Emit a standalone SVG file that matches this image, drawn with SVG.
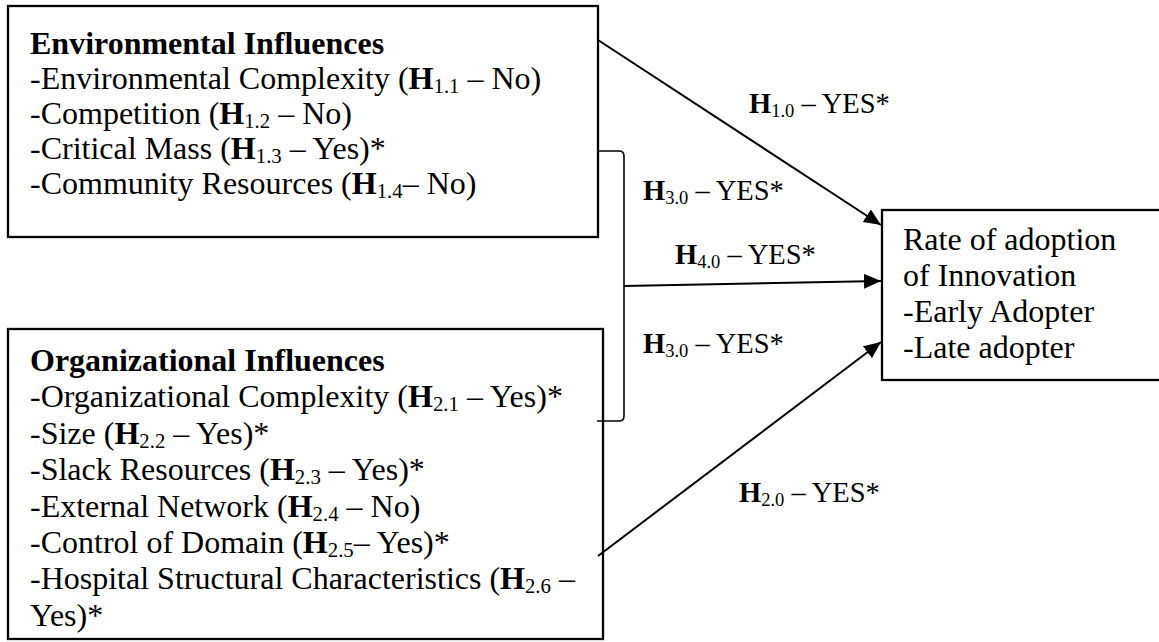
<svg xmlns="http://www.w3.org/2000/svg" width="1159" height="642" viewBox="0 0 1159 642">
  <style>
    .box { fill: #fff; stroke: #000; stroke-width: 2.3; }
    .txt { font-family: "Liberation Serif", "Times New Roman", serif; font-size: 32px; fill: #000; }
    .lbl { font-family: "Liberation Serif", "Times New Roman", serif; font-size: 28.5px; fill: #000; }
    .b { font-weight: bold; }
    .sub { font-size: 65%; }
    .edge { fill: none; stroke: #000; stroke-width: 2; }
    .brace { fill: none; stroke: #000; stroke-width: 1.6; }
  </style>
  <defs>
    <marker id="arrow" markerUnits="userSpaceOnUse" markerWidth="17" markerHeight="15" refX="17" refY="7.5" orient="auto">
      <path d="M0,0 L17,7.5 L0,15 Z" fill="#000"/>
    </marker>
  </defs>
  <rect width="1159" height="642" fill="#fff"/>

  <g id="environmental">
    <rect class="box" x="8" y="6" width="590" height="231"/>
    <text class="txt" x="30" y="54"><tspan class="b">Environmental Influences</tspan></text>
    <text class="txt" x="30" y="89">-Environmental Complexity (<tspan class="b">H</tspan><tspan class="sub" dy="4">1.1</tspan><tspan dy="-4"> – No)</tspan></text>
    <text class="txt" x="30" y="124">-Competition (<tspan class="b">H</tspan><tspan class="sub" dy="4">1.2</tspan><tspan dy="-4"> – No)</tspan></text>
    <text class="txt" x="30" y="159">-Critical Mass (<tspan class="b">H</tspan><tspan class="sub" dy="4">1.3</tspan><tspan dy="-4"> – Yes)*</tspan></text>
    <text class="txt" x="30" y="194">-Community Resources (<tspan class="b">H</tspan><tspan class="sub" dy="4">1.4</tspan><tspan dy="-4">– No)</tspan></text>
  </g>

  <g id="organizational">
    <rect class="box" x="8" y="329" width="595" height="310"/>
    <text class="txt" x="30" y="371"><tspan class="b">Organizational Influences</tspan></text>
    <text class="txt" x="30" y="407">-Organizational Complexity (<tspan class="b">H</tspan><tspan class="sub" dy="4">2.1</tspan><tspan dy="-4"> – Yes)*</tspan></text>
    <text class="txt" x="30" y="444">-Size (<tspan class="b">H</tspan><tspan class="sub" dy="4">2.2</tspan><tspan dy="-4"> – Yes)*</tspan></text>
    <text class="txt" x="30" y="480">-Slack Resources (<tspan class="b">H</tspan><tspan class="sub" dy="4">2.3</tspan><tspan dy="-4"> – Yes)*</tspan></text>
    <text class="txt" x="30" y="517">-External Network (<tspan class="b">H</tspan><tspan class="sub" dy="4">2.4</tspan><tspan dy="-4"> – No)</tspan></text>
    <text class="txt" x="30" y="553">-Control of Domain (<tspan class="b">H</tspan><tspan class="sub" dy="4">2.5</tspan><tspan dy="-4">– Yes)*</tspan></text>
    <text class="txt" x="30" y="589">-Hospital Structural Characteristics (<tspan class="b">H</tspan><tspan class="sub" dy="4">2.6</tspan><tspan dy="-4"> –</tspan></text>
    <text class="txt" x="30" y="626">Yes)*</text>
  </g>

  <g id="adoption">
    <rect class="box" x="882" y="210" width="290" height="170"/>
    <text class="txt" x="903" y="250">Rate of adoption</text>
    <text class="txt" x="903" y="286">of Innovation</text>
    <text class="txt" x="903" y="322">-Early Adopter</text>
    <text class="txt" x="903" y="358">-Late adopter</text>
  </g>

  <g id="connectors">
    <path class="brace" d="M598,151 L619,151 Q624,151 624,156 L624,416 Q624,421 619,421 L597,421"/>
    <line class="edge" x1="598" y1="40" x2="881" y2="225" marker-end="url(#arrow)"/>
    <line class="edge" x1="624" y1="286" x2="881" y2="281" marker-end="url(#arrow)"/>
    <line class="edge" x1="598" y1="556" x2="881" y2="342" marker-end="url(#arrow)"/>
  </g>

  <g id="labels">
    <text class="lbl" x="749" y="113"><tspan class="b">H</tspan><tspan class="sub" dy="4">1.0</tspan><tspan dy="-4"> – YES*</tspan></text>
    <text class="lbl" x="643" y="200"><tspan class="b">H</tspan><tspan class="sub" dy="4">3.0</tspan><tspan dy="-4"> – YES*</tspan></text>
    <text class="lbl" x="675" y="264"><tspan class="b">H</tspan><tspan class="sub" dy="4">4.0</tspan><tspan dy="-4"> – YES*</tspan></text>
    <text class="lbl" x="643" y="353"><tspan class="b">H</tspan><tspan class="sub" dy="4">3.0</tspan><tspan dy="-4"> – YES*</tspan></text>
    <text class="lbl" x="739" y="502"><tspan class="b">H</tspan><tspan class="sub" dy="4">2.0</tspan><tspan dy="-4"> – YES*</tspan></text>
  </g>
</svg>
